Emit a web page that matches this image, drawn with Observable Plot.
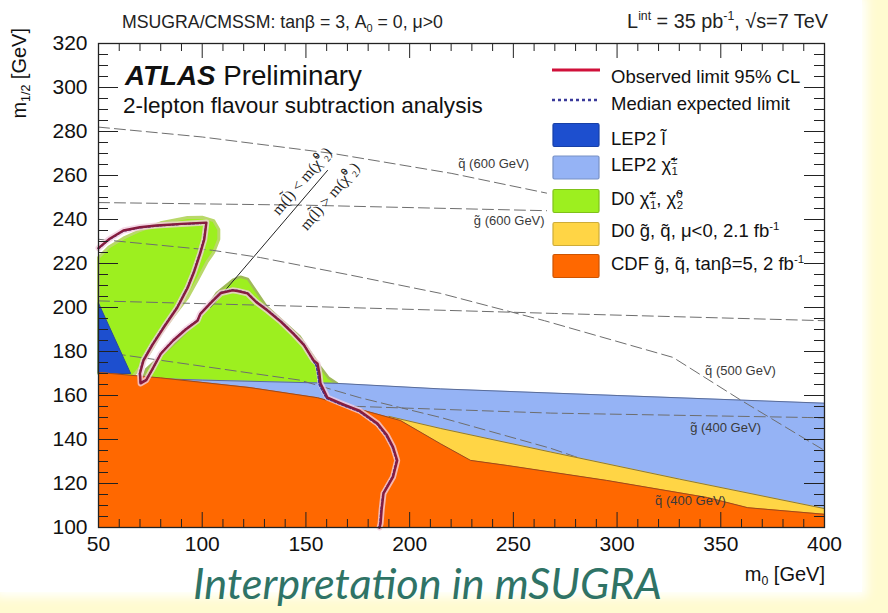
<!DOCTYPE html>
<html><head><meta charset="utf-8">
<script src="https://cdn.jsdelivr.net/npm/d3@7"></script>
<script src="https://cdn.jsdelivr.net/npm/@observablehq/plot@0.6"></script>
<style>
html,body{margin:0;padding:0;}
body{width:888px;height:613px;position:relative;overflow:hidden;background:#fffbd0;}
#paper{position:absolute;left:0;top:0;width:862px;height:592px;background:#fff;box-shadow:0 0 10px 5px #fff;}
#chart,#overlay{position:absolute;left:0;top:0;}
</style>
</head><body>
<div id="paper"></div>
<div id="chart"></div>
<svg id="overlay" width="888" height="613"></svg>
<script>
// ---------- data (GeV) ----------
const xDomain = [50, 400];
const yDomain = [100, 320];
const xMajor = [50, 100, 150, 200, 250, 300, 350, 400];
const yMajor = [100, 120, 140, 160, 180, 200, 220, 240, 260, 280, 300, 320];
const xMinor = d3.range(50, 401, 10).filter(v => v % 50 !== 0);
const yMinor = d3.range(100, 321, 5).filter(v => v % 20 !== 0);

// excluded regions
const lep2Slepton = [[50,202],[65.5,170],[50,170]];
const lep2CharginoTop = [[50,168.5],[100,167],[165,165.5],[215,163],[300,160],[400,156.5]];
const d0GluinoTop = [[190,150.5],[215,145],[268,134.3],[330,122],[400,108.6]];
const cdfTop = [[50,170.5],[80,168],[123,163.6],[155.6,159],[195.6,148.6],[215,138],[229.4,130.5],[247,128.2],[295,121.4],[343.6,113.6],[363,109],[400,106]];
const d0NeutralinoLeft = [[50,170],[50,222.7],[55,227.5],[62,231.5],[70,235],[80,238.5],[92.9,240.9],[100,241],[105.5,239.5],[108,235.5],[108,231],[105.5,225],[102.5,221],[98,213],[93,204.5],[86,196],[80,188],[75,180],[70,172.7],[66,168]];
const d0NeutralinoRight = [[71.7,168],[73,172],[80,178],[88,185],[97.7,194],[103,201],[107,206.6],[115,212.7],[118.5,214],[122,213],[131,200.5],[147,186.8],[157,173],[161,168],[165,165.5],[120,165],[80,167]];

// limits
const observed = [[50,227],[55,231],[62,235],[70,236.5],[78,237.3],[90,238],[102,238.6],
  [101,231],[99,224.5],[96,216],[93,209],[88,200],[81.5,191],[76,183],[71.7,176],[70,170],[70.3,165.5],
  [73,167],[76,172],[80,179],[86,185],[92,190],[97.7,194],[99,197],[104,202],[109,206.6],[114.6,207.8],[117,207.5],
  [121.8,206.4],[126,202.5],[131.5,198.6],[138,193.5],[144,188],[149,183],[153.7,176],[155.6,174.5],[156.5,170],
  [157,165.5],[160.4,159],[168,156],[176,153],[184.5,147.3],[189,142],[192,136.6],[194,130.5],[192,123],
  [187.4,115.5],[186.5,108],[186,101.8],[185.5,100]];
const expected = [[50,226.8],[55,230.8],[62,234.8],[70,236.3],[78,237.1],[90,237.9],[102,238.4],
  [100.8,231],[98.8,224.5],[95.8,216],[92.8,209],[87.8,200],[81.3,191],[75.8,183],[71.5,176],[69.8,170],[70.2,165.8],
  [73.2,167.3],[76.2,172.3],[80.2,179.3],[86.2,185.3],[92.2,190.3],[97.9,194.3],[99.2,197.3],[104.2,202.3],[109,206.8],[114.6,208],[117,207.7],
  [121.8,206.6],[126,202.7],[131.5,198.8],[138,193.7],[144,188.2],[149,183.2],[153.4,176],[155,173.5],[155.8,169.5],
  [156.4,165],[159.9,158.7],[167.6,155.7],[175.7,152.7],[184.2,147.1],[188.7,141.8],[191.7,136.5],[193.7,130.5],[191.7,123],
  [187.2,115.5],[186.2,108],[185.7,101.8],[185.2,100]];

// iso-mass contours (visible parts)
const sq600 = [[50,282],[100,277.5],[163,270],[220,261],[266,252]];
const gl600 = [[50,247.7],[150,246.5],[266,244]];
const sq500 = [[50,231],[105,226],[128,222.7],[170,215],[215,206.4],[265,194],[327,177.3],[360,157.7],[392,139.5],[400,135]];
const gl500 = [[50,203],[150,200.5],[270,197.3],[400,194]];
const gl400 = [[50,158],[176,155],[268,152],[392,150],[400,149.8]];
const sq400 = [[50,180],[80,176],[147,167],[176,159],[215,150],[268,136],[330,116],[360,108]];
const contourLabels = [
  {x:240.5, y:265.5, text:"q\u0303 (600 GeV)"},
  {x:248, y:239.5, text:"g\u0303 (600 GeV)"},
  {x:359.5, y:171.4, text:"q\u0303 (500 GeV)"},
  {x:352.3, y:145.5, text:"g\u0303 (400 GeV)"},
  {x:335.4, y:112.3, text:"q\u0303 (400 GeV)"}
];
const diagonal = [[104,200],[160.4,262.3]];
const diagLabels = [
  {x:148, y:257.5, text:"m(l\u0303) < m(\u03c7\u0303\u2070\u2082)"},
  {x:161.5, y:250.5, text:"m(l\u0303) > m(\u03c7\u0303\u2070\u2082)"}
];

// colours
const C = {slepton:"#1d4fcf", chargino:"#95b3f5", neutralino:"#9def1f", d0:"#ffd545", cdf:"#ff6800",
           obs:"#d0103a", obsPlot:"#861c3e", exp:"#3a3a9a"};

// ---------- plot ----------
const fw = 888 - 98 - 64, fh = 613 - 43 - 86;
const X = d => d[0], Y = d => d[1], Y0 = () => yDomain[0];
const dash = {x:X, y:Y, stroke:"#6e6e6e", strokeWidth:1, strokeDasharray:"11,5"};

const chart = Plot.plot({
  width: 888, height: 613,
  marginLeft: 98, marginRight: 64, marginTop: 43, marginBottom: 86,
  x: {domain: xDomain, label: null},
  y: {domain: yDomain, label: null},
  style: {background: "transparent", fontFamily: "Liberation Sans, Arial, sans-serif", fontSize: "21px", color: "#111"},
  marks: [
    Plot.line(d0NeutralinoLeft, {x:X, y:Y, fill:C.neutralino, stroke:"#b9d86a", strokeWidth:3, curve:"linear-closed"}),
    Plot.line(d0NeutralinoRight, {x:X, y:Y, fill:C.neutralino, stroke:"#9fb95a", strokeWidth:2.5, curve:"linear-closed"}),
    Plot.areaY(lep2CharginoTop, {x:X, y1:Y0, y2:Y, fill:C.chargino}),
    Plot.line(lep2CharginoTop, {x:X, y:Y, stroke:"#5a6c98", strokeWidth:1}),
    Plot.line(sq600, dash), Plot.line(gl600, dash), Plot.line(sq500, dash),
    Plot.line(gl500, dash), Plot.line(gl400, dash), Plot.line(sq400, dash),
    Plot.line(lep2Slepton, {x:X, y:Y, fill:C.slepton, stroke:"#2a48a0", strokeWidth:1, curve:"linear-closed"}),
    Plot.areaY(d0GluinoTop, {x:X, y1:Y0, y2:Y, fill:C.d0}),
    Plot.line(d0GluinoTop, {x:X, y:Y, stroke:"#8c7a3a", strokeWidth:1}),
    Plot.areaY(cdfTop, {x:X, y1:Y0, y2:Y, fill:C.cdf}),
    Plot.line(cdfTop, {x:X, y:Y, stroke:"#9a4a1e", strokeWidth:1}),
    Plot.line(diagonal, {x:X, y:Y, stroke:"#222", strokeWidth:1}),
    Plot.text(diagLabels, {x:"x", y:"y", text:"text", rotate:-50, fontSize:15.5, fontFamily:"Liberation Serif, serif", fill:"#222"}),
    Plot.line(observed, {x:X, y:Y, stroke:"#f3cde0", strokeWidth:6, strokeOpacity:0.8}),
    Plot.line(expected, {x:X, y:Y, stroke:C.exp, strokeWidth:1.8, strokeDasharray:"2,2"}),
    Plot.line(observed, {x:X, y:Y, stroke:C.obsPlot, strokeWidth:2.4}),
    Plot.text(contourLabels, {x:"x", y:"y", text:"text", fontSize:13, fill:"#3a3a3a"}),
    Plot.tickX(xMinor, {x:d=>d, insetTop: fh-8, stroke:"#222"}),
    Plot.tickX(xMajor, {x:d=>d, insetTop: fh-15, stroke:"#222"}),
    Plot.tickX(xMinor, {x:d=>d, insetBottom: fh-8, stroke:"#222"}),
    Plot.tickX(xMajor, {x:d=>d, insetBottom: fh-15, stroke:"#222"}),
    Plot.tickY(yMinor, {y:d=>d, insetRight: fw-10, stroke:"#222"}),
    Plot.tickY(yMajor, {y:d=>d, insetRight: fw-20, stroke:"#222"}),
    Plot.tickY(yMinor, {y:d=>d, insetLeft: fw-10, stroke:"#222"}),
    Plot.tickY(yMajor, {y:d=>d, insetLeft: fw-20, stroke:"#222"}),
    Plot.frame({stroke:"#222", strokeWidth:1.3}),
    Plot.axisX(xMajor, {tickSize:0, tickPadding:9, fontSize:21, tickFormat:d=>String(d), label:null}),
    Plot.axisY(yMajor, {tickSize:0, tickPadding:11, fontSize:21, tickFormat:d=>String(d), label:null})
  ]
});
document.getElementById("chart").appendChild(chart);

// ---------- text overlay ----------
const ov = d3.select("#overlay");
const SANS = "Liberation Sans, Arial, sans-serif";
function txt(x, y, parts, o = {}) {
  const build = size => {
    const t = ov.append("text").attr("x", x).attr("y", y)
      .attr("font-family", o.family || SANS).attr("font-size", size)
      .attr("fill", o.fill || "#111").attr("text-anchor", o.anchor || "start");
    if (o.style) t.attr("font-style", o.style);
    if (o.transform) t.attr("transform", o.transform);
    let shift = 0;
    for (const p of parts) {
      const [s, k] = typeof p === "string" ? [p, ""] : p;
      const ts = t.append("tspan").text(s);
      let target = 0;
      if (k === "sup" || k === "supb") { target = -0.4 * size; ts.attr("font-size", size * 0.62); }
      if (k === "sub" || k === "subb") { target = 0.22 * size; ts.attr("font-size", size * 0.62); }
      if (k === "bi") ts.attr("font-weight", "bold").attr("font-style", "italic");
      if (k === "subb" || k === "supb") ts.attr("dx", -0.32 * size);
      if (target !== shift) { ts.attr("dy", target - shift); shift = target; }
    }
    return t;
  };
  let t = build(o.size || 18);
  if (o.width) {
    const L = t.node().getComputedTextLength();
    const s = (o.size || 18) * o.width / L;
    t.remove();
    t = build(s);
  }
  return t;
}

txt(122, 28, ["MSUGRA/CMSSM: tan\u03b2 = 3, A", ["0","sub"], " = 0, \u03bc>0"], {size:17.5, width:321, fill:"#222"});
txt(828, 28, ["L", ["int","sup"], " = 35 pb", ["-1","sup"], ", \u221as=7 TeV"], {size:17.5, width:201, anchor:"end", fill:"#222"});
txt(125, 85, [["ATLAS","bi"], " Preliminary"], {size:27.5, width:237});
txt(123, 113, ["2-lepton flavour subtraction analysis"], {size:21, width:360});

// legend
const legendLines = [
  {y:70, color:C.obs, dash:null, width:3.2, parts:["Observed limit 95% CL"], base:83},
  {y:100, color:C.exp, dash:"3,3", width:2.6, parts:["Median expected limit"], base:110}
];
const legendBoxes = [
  {y:135, fill:C.slepton, parts:["LEP2 l\u0303"], base:145},
  {y:167.5, fill:C.chargino, parts:["LEP2 \u03c7\u0303", ["\u00b1","sup"], ["1","subb"]], base:171},
  {y:201, fill:C.neutralino, parts:["D0 \u03c7\u0303", ["\u00b1","sup"], ["1","subb"], ", \u03c7\u0303", ["0","sup"], ["2","subb"]], base:205},
  {y:234, fill:C.d0, parts:["D0 g\u0303, q\u0303, \u03bc<0, 2.1 fb", ["-1","sup"]], base:237},
  {y:266, fill:C.cdf, parts:["CDF g\u0303, q\u0303, tan\u03b2=5, 2 fb", ["-1","sup"]], base:270}
];
for (const l of legendLines) {
  const ln = ov.append("line").attr("x1", 552).attr("x2", 600).attr("y1", l.y).attr("y2", l.y)
    .attr("stroke", l.color).attr("stroke-width", l.width);
  if (l.dash) ln.attr("stroke-dasharray", l.dash);
  txt(611, l.base, l.parts, {size:18.5});
}
for (const b of legendBoxes) {
  ov.append("rect").attr("x", 553).attr("y", b.y - 11.5).attr("width", 46).attr("height", 23)
    .attr("fill", b.fill).attr("stroke", d3.color(b.fill).darker(0.6)).attr("stroke-width", 1.2).attr("rx", 1.5);
  txt(611, b.base, b.parts, {size:18.5});
}

// axis titles
txt(825, 581, ["m", ["0","sub"], " [GeV]"], {size:20, anchor:"end"});
txt(0, 0, ["m", ["1/2","sub"], " [GeV]"], {size:20, anchor:"end", transform:"translate(26,28) rotate(-90)"});

// slide caption
txt(193, 599, ["Interpretation in mSUGRA"], {size:34, width:469, family:"Lato, Open Sans, sans-serif", style:"italic", fill:"#2f7366"});
</script>
</body></html>
